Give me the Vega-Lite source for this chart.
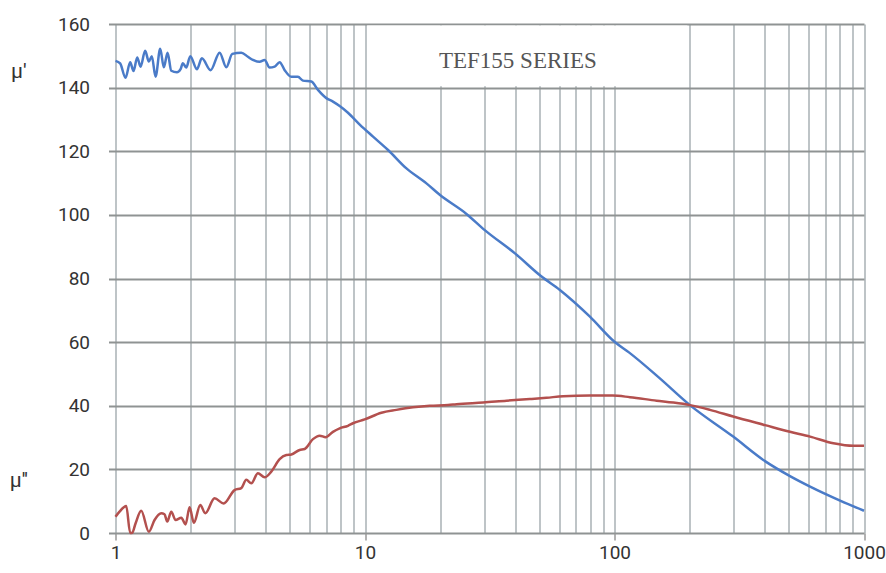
{
  "$schema": "https://vega.github.io/schema/vega-lite/v6.json",
  "width": 748.5,
  "height": 509,
  "autosize": "none",
  "padding": {"left": 115.5, "top": 24, "right": 22, "bottom": 40},
  "background": "white",
  "config": {"view": {"stroke": null}},
  "datasets": {
    "curves": [
      {"f": 1, "v": 148.4, "s": "mu1"},
      {"f": 1.044, "v": 147.6, "s": "mu1"},
      {"f": 1.097, "v": 143.1, "s": "mu1"},
      {"f": 1.145, "v": 148, "s": "mu1"},
      {"f": 1.181, "v": 145.2, "s": "mu1"},
      {"f": 1.222, "v": 149.5, "s": "mu1"},
      {"f": 1.26, "v": 146.6, "s": "mu1"},
      {"f": 1.315, "v": 151.6, "s": "mu1"},
      {"f": 1.36, "v": 148.2, "s": "mu1"},
      {"f": 1.398, "v": 149.9, "s": "mu1"},
      {"f": 1.447, "v": 143.4, "s": "mu1"},
      {"f": 1.511, "v": 152.2, "s": "mu1"},
      {"f": 1.562, "v": 146.4, "s": "mu1"},
      {"f": 1.617, "v": 151, "s": "mu1"},
      {"f": 1.673, "v": 145.3, "s": "mu1"},
      {"f": 1.762, "v": 144.8, "s": "mu1"},
      {"f": 1.823, "v": 145.8, "s": "mu1"},
      {"f": 1.862, "v": 147.7, "s": "mu1"},
      {"f": 1.921, "v": 146.3, "s": "mu1"},
      {"f": 1.994, "v": 149.9, "s": "mu1"},
      {"f": 2.119, "v": 145.8, "s": "mu1"},
      {"f": 2.219, "v": 149.2, "s": "mu1"},
      {"f": 2.405, "v": 145.5, "s": "mu1"},
      {"f": 2.614, "v": 151, "s": "mu1"},
      {"f": 2.78, "v": 146.4, "s": "mu1"},
      {"f": 2.938, "v": 150.6, "s": "mu1"},
      {"f": 3.193, "v": 151, "s": "mu1"},
      {"f": 3.394, "v": 149.7, "s": "mu1"},
      {"f": 3.553, "v": 148.7, "s": "mu1"},
      {"f": 3.781, "v": 148.1, "s": "mu1"},
      {"f": 3.96, "v": 148.7, "s": "mu1"},
      {"f": 4.147, "v": 146.3, "s": "mu1"},
      {"f": 4.343, "v": 146.6, "s": "mu1"},
      {"f": 4.549, "v": 148, "s": "mu1"},
      {"f": 4.764, "v": 145.5, "s": "mu1"},
      {"f": 5.068, "v": 143.4, "s": "mu1"},
      {"f": 5.386, "v": 143.4, "s": "mu1"},
      {"f": 5.64, "v": 142.2, "s": "mu1"},
      {"f": 6.095, "v": 141.9, "s": "mu1"},
      {"f": 6.478, "v": 139.3, "s": "mu1"},
      {"f": 7.0, "v": 136.7, "s": "mu1"},
      {"f": 7.44, "v": 135.6, "s": "mu1"},
      {"f": 7.915, "v": 134.2, "s": "mu1"},
      {"f": 8.546, "v": 132.1, "s": "mu1"},
      {"f": 9.55, "v": 128.3, "s": "mu1"},
      {"f": 10.77, "v": 124.6, "s": "mu1"},
      {"f": 12.37, "v": 120.4, "s": "mu1"},
      {"f": 14.66, "v": 114.6, "s": "mu1"},
      {"f": 17.63, "v": 109.9, "s": "mu1"},
      {"f": 19.93, "v": 106.3, "s": "mu1"},
      {"f": 25.5, "v": 100.3, "s": "mu1"},
      {"f": 30.2, "v": 95.2, "s": "mu1"},
      {"f": 39.9, "v": 87.9, "s": "mu1"},
      {"f": 51, "v": 80.6, "s": "mu1"},
      {"f": 60.4, "v": 76.4, "s": "mu1"},
      {"f": 79.7, "v": 68.0, "s": "mu1"},
      {"f": 100, "v": 60.1, "s": "mu1"},
      {"f": 114.6, "v": 56.7, "s": "mu1"},
      {"f": 150, "v": 49.0, "s": "mu1"},
      {"f": 200.6, "v": 40.2, "s": "mu1"},
      {"f": 299, "v": 30.3, "s": "mu1"},
      {"f": 401, "v": 22.6, "s": "mu1"},
      {"f": 505, "v": 17.9, "s": "mu1"},
      {"f": 608, "v": 14.6, "s": "mu1"},
      {"f": 802, "v": 10.2, "s": "mu1"},
      {"f": 1000, "v": 7.0, "s": "mu1"},
      {"f": 1, "v": 5.1, "s": "mu2"},
      {"f": 1.038, "v": 6.7, "s": "mu2"},
      {"f": 1.104, "v": 8.5, "s": "mu2"},
      {"f": 1.145, "v": 0, "s": "mu2"},
      {"f": 1.167, "v": 0.1, "s": "mu2"},
      {"f": 1.203, "v": 3.0, "s": "mu2"},
      {"f": 1.268, "v": 7.0, "s": "mu2"},
      {"f": 1.36, "v": 0.4, "s": "mu2"},
      {"f": 1.434, "v": 4.1, "s": "mu2"},
      {"f": 1.525, "v": 6.2, "s": "mu2"},
      {"f": 1.572, "v": 5.9, "s": "mu2"},
      {"f": 1.612, "v": 3.6, "s": "mu2"},
      {"f": 1.673, "v": 6.7, "s": "mu2"},
      {"f": 1.741, "v": 4.1, "s": "mu2"},
      {"f": 1.835, "v": 4.8, "s": "mu2"},
      {"f": 1.909, "v": 2.7, "s": "mu2"},
      {"f": 1.981, "v": 8.1, "s": "mu2"},
      {"f": 2.061, "v": 3.2, "s": "mu2"},
      {"f": 2.187, "v": 8.8, "s": "mu2"},
      {"f": 2.29, "v": 6.2, "s": "mu2"},
      {"f": 2.495, "v": 10.9, "s": "mu2"},
      {"f": 2.712, "v": 9.3, "s": "mu2"},
      {"f": 3.001, "v": 13.5, "s": "mu2"},
      {"f": 3.193, "v": 14.1, "s": "mu2"},
      {"f": 3.344, "v": 16.7, "s": "mu2"},
      {"f": 3.502, "v": 15.6, "s": "mu2"},
      {"f": 3.722, "v": 18.8, "s": "mu2"},
      {"f": 3.96, "v": 17.5, "s": "mu2"},
      {"f": 4.212, "v": 19.3, "s": "mu2"},
      {"f": 4.549, "v": 23.2, "s": "mu2"},
      {"f": 4.839, "v": 24.5, "s": "mu2"},
      {"f": 5.068, "v": 24.7, "s": "mu2"},
      {"f": 5.47, "v": 26.1, "s": "mu2"},
      {"f": 5.73, "v": 26.4, "s": "mu2"},
      {"f": 6.185, "v": 29.5, "s": "mu2"},
      {"f": 6.58, "v": 30.6, "s": "mu2"},
      {"f": 6.955, "v": 30.1, "s": "mu2"},
      {"f": 7.44, "v": 31.8, "s": "mu2"},
      {"f": 7.915, "v": 32.9, "s": "mu2"},
      {"f": 8.546, "v": 33.7, "s": "mu2"},
      {"f": 8.95, "v": 34.5, "s": "mu2"},
      {"f": 9.97, "v": 35.7, "s": "mu2"},
      {"f": 11.63, "v": 37.8, "s": "mu2"},
      {"f": 13.36, "v": 38.7, "s": "mu2"},
      {"f": 15.57, "v": 39.5, "s": "mu2"},
      {"f": 18.18, "v": 40.0, "s": "mu2"},
      {"f": 21.52, "v": 40.2, "s": "mu2"},
      {"f": 23.26, "v": 40.5, "s": "mu2"},
      {"f": 29.74, "v": 41.0, "s": "mu2"},
      {"f": 36.92, "v": 41.6, "s": "mu2"},
      {"f": 45.8, "v": 42.1, "s": "mu2"},
      {"f": 53.4, "v": 42.5, "s": "mu2"},
      {"f": 62.3, "v": 43.0, "s": "mu2"},
      {"f": 79.7, "v": 43.2, "s": "mu2"},
      {"f": 98.2, "v": 43.2, "s": "mu2"},
      {"f": 115.3, "v": 42.7, "s": "mu2"},
      {"f": 147.5, "v": 41.6, "s": "mu2"},
      {"f": 172, "v": 41.0, "s": "mu2"},
      {"f": 200.6, "v": 40.2, "s": "mu2"},
      {"f": 241.3, "v": 38.7, "s": "mu2"},
      {"f": 299, "v": 36.6, "s": "mu2"},
      {"f": 401, "v": 33.9, "s": "mu2"},
      {"f": 505, "v": 31.8, "s": "mu2"},
      {"f": 608, "v": 30.3, "s": "mu2"},
      {"f": 754, "v": 28.2, "s": "mu2"},
      {"f": 907, "v": 27.4, "s": "mu2"},
      {"f": 1000, "v": 27.4, "s": "mu2"}
    ]
  },
  "layer": [
    {
      "data": {"name": "curves"},
      "mark": {"type": "line", "strokeWidth": 2.5, "interpolate": "monotone"},
      "encoding": {
        "x": {
          "field": "f",
          "type": "quantitative",
          "scale": {"type": "log", "domain": [1, 1000], "nice": false},
          "axis": {
            "values": [1, 2, 3, 4, 5, 6, 7, 8, 9, 10, 20, 30, 40, 50, 60, 70, 80, 90, 100, 200, 300, 400, 500, 600, 700, 800, 900, 1000],
            "grid": true,
            "gridColor": "#a9b1b5",
            "gridWidth": 1.5,
            "domain": false,
            "tickSize": 7,
            "tickColor": "#999999",
            "tickWidth": 1.5,
            "tickOpacity": {"condition": {"test": "datum.value == 1 || datum.value == 10 || datum.value == 100 || datum.value == 1000", "value": 1}, "value": 0},
            "labelExpr": "datum.value == 1 || datum.value == 10 || datum.value == 100 || datum.value == 1000 ? format(datum.value, 'd') : ''",
            "labelFont": "Roboto",
            "labelFontSize": 19,
            "labelColor": "#333333",
            "labelPadding": 3,
            "labelFlush": false,
            "labelOverlap": false,
            "title": null
          }
        },
        "y": {
          "field": "v",
          "type": "quantitative",
          "scale": {"domain": [0, 160], "nice": false},
          "axis": {
            "values": [0, 20, 40, 60, 80, 100, 120, 140, 160],
            "grid": true,
            "gridColor": "#8f9393",
            "gridWidth": 2,
            "domain": false,
            "tickSize": 7,
            "tickColor": "#8f9393",
            "tickWidth": 2,
            "labelFont": "Roboto",
            "labelFontSize": 19,
            "labelColor": "#333333",
            "labelPadding": 19,
            "title": null
          }
        },
        "color": {
          "field": "s",
          "type": "nominal",
          "scale": {"domain": ["mu1", "mu2"], "range": ["#4a7bc8", "#b3504e"]},
          "legend": null
        }
      }
    },
    {
      "data": {"values": [{}]},
      "mark": {"type": "rect", "fill": "white", "stroke": null},
      "encoding": {
        "x": {"datum": 10.2},
        "x2": {"datum": 196},
        "y": {"datum": 140.45},
        "y2": {"datum": 159.55}
      }
    },
    {
      "data": {"values": [{}]},
      "mark": {"type": "text", "text": "TEF155 SERIES", "font": "Liberation Serif", "fontSize": 23, "color": "#555555", "align": "center", "baseline": "alphabetic"},
      "encoding": {
        "x": {"datum": 41},
        "y": {"datum": 146.2}
      }
    },
    {
      "data": {"values": [{}]},
      "mark": {"type": "text", "text": "μ'", "font": "Roboto", "fontSize": 21, "color": "#333333", "align": "center", "baseline": "alphabetic"},
      "encoding": {
        "x": {"datum": 0.41},
        "y": {"datum": 143}
      }
    },
    {
      "data": {"values": [{}]},
      "mark": {"type": "text", "text": "μ''", "font": "Roboto", "fontSize": 21, "color": "#333333", "align": "center", "baseline": "alphabetic"},
      "encoding": {
        "x": {"datum": 0.41},
        "y": {"datum": 14.5}
      }
    }
  ]
}
